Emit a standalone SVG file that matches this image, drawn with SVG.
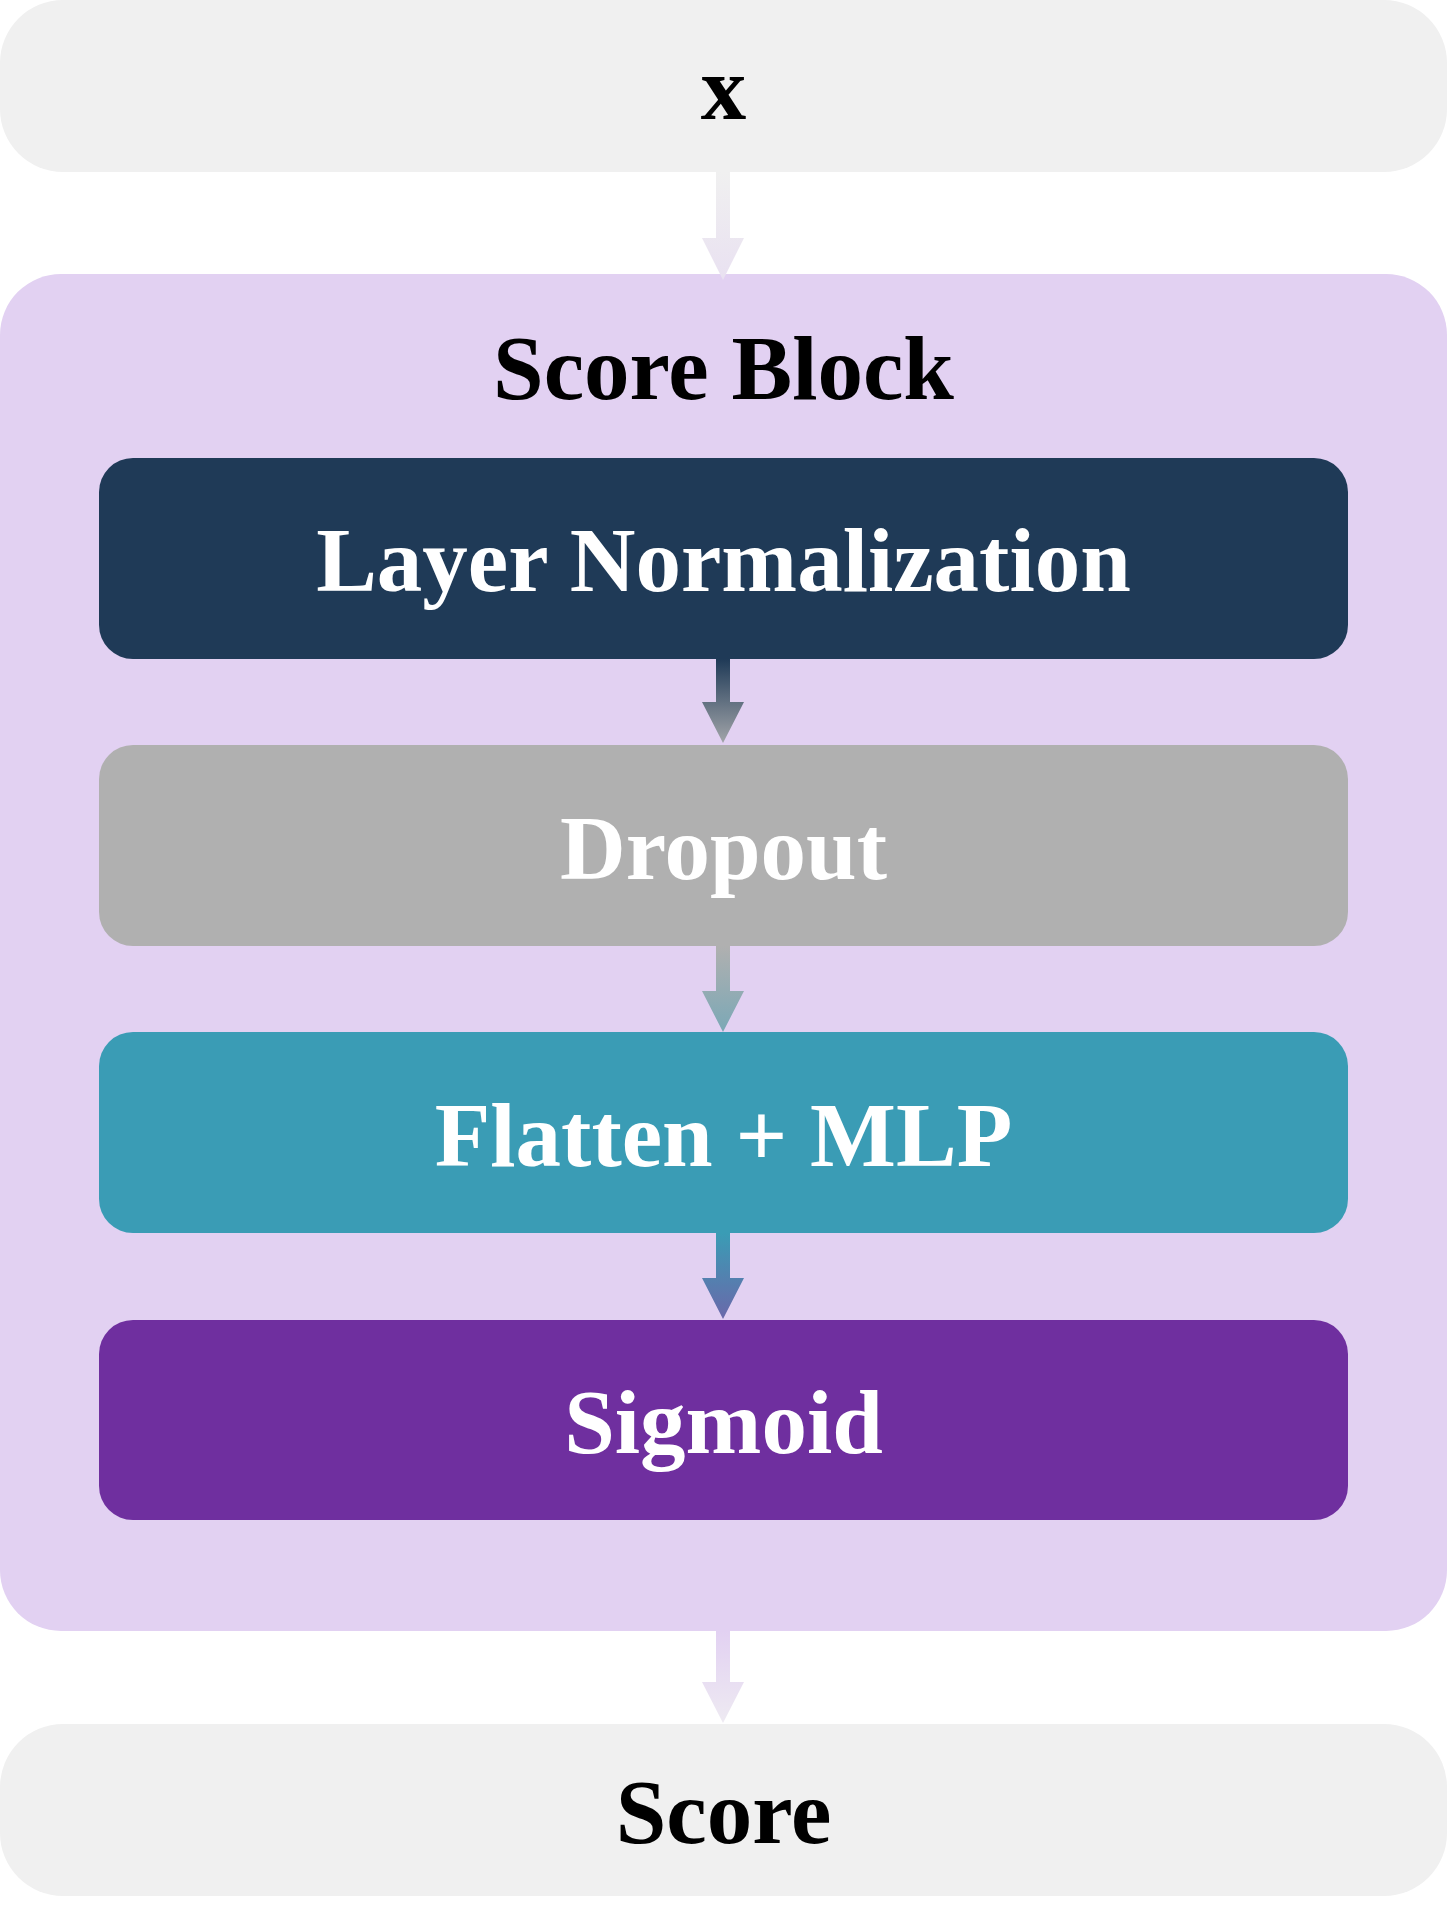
<svg xmlns="http://www.w3.org/2000/svg" width="1447" height="1921" viewBox="0 0 1447 1921">
  <style>
    .t { font-family: "Liberation Serif", "Times New Roman", serif; font-weight: bold; font-size: 91px; text-anchor: middle; }
    .dark { fill: #000000; }
    .light { fill: #FFFFFF; }
  </style>
  <defs>
    <linearGradient id="g1" gradientUnits="userSpaceOnUse" x1="0" y1="172" x2="0" y2="280">
      <stop offset="0" stop-color="#F0F0F0"/><stop offset="1" stop-color="#E9E1F1"/>
    </linearGradient>
    <linearGradient id="g2" gradientUnits="userSpaceOnUse" x1="0" y1="659" x2="0" y2="743">
      <stop offset="0" stop-color="#1F3A57"/><stop offset="1" stop-color="#A2A5A9"/>
    </linearGradient>
    <linearGradient id="g3" gradientUnits="userSpaceOnUse" x1="0" y1="946" x2="0" y2="1032">
      <stop offset="0" stop-color="#B0B0B0"/><stop offset="1" stop-color="#7BA8B6"/>
    </linearGradient>
    <linearGradient id="g4" gradientUnits="userSpaceOnUse" x1="0" y1="1233" x2="0" y2="1319">
      <stop offset="0" stop-color="#3A9CB5"/><stop offset="1" stop-color="#6A68AA"/>
    </linearGradient>
    <linearGradient id="g5" gradientUnits="userSpaceOnUse" x1="0" y1="1631" x2="0" y2="1723">
      <stop offset="0" stop-color="#E2D1F2"/><stop offset="1" stop-color="#EEEAF2"/>
    </linearGradient>
  </defs>

  <g id="input-x">
    <rect x="0" y="0" width="1447" height="172" rx="63" ry="63" fill="#F0F0F0"/>
    <text class="t dark" x="723.5" y="119">x</text>
  </g>

  <g id="score-block">
    <rect x="0" y="274" width="1447" height="1357" rx="61" ry="61" fill="#E2D1F2"/>
    <text class="t dark" x="723.5" y="399">Score Block</text>
  </g>

  <g id="layer-norm">
    <rect x="99" y="458" width="1249" height="201" rx="34" ry="34" fill="#1F3A57"/>
    <text class="t light" x="723.5" y="591">Layer Normalization</text>
  </g>

  <g id="dropout">
    <rect x="99" y="745" width="1249" height="201" rx="34" ry="34" fill="#B0B0B0"/>
    <text class="t light" x="723.5" y="879">Dropout</text>
  </g>

  <g id="flatten-mlp">
    <rect x="99" y="1032" width="1249" height="201" rx="34" ry="34" fill="#3A9CB5"/>
    <text class="t light" x="723.5" y="1166">Flatten + MLP</text>
  </g>

  <g id="sigmoid">
    <rect x="99" y="1320" width="1249" height="200" rx="34" ry="34" fill="#6F2F9F"/>
    <text class="t light" x="723.5" y="1453">Sigmoid</text>
  </g>

  <g id="output-score">
    <rect x="0" y="1724" width="1447" height="172" rx="63" ry="63" fill="#F0F0F0"/>
    <text class="t dark" x="723.5" y="1843">Score</text>
  </g>

  <g id="connectors">
    <path d="M716,172 H730 V238 H744 L723,280 L702,238 H716 Z" fill="url(#g1)"/>
    <path d="M716,659 H730 V702 H744 L723,743 L702,702 H716 Z" fill="url(#g2)"/>
    <path d="M716,946 H730 V991 H744 L723,1032 L702,991 H716 Z" fill="url(#g3)"/>
    <path d="M716,1233 H730 V1278 H744 L723,1319 L702,1278 H716 Z" fill="url(#g4)"/>
    <path d="M716,1631 H730 V1682 H744 L723,1723 L702,1682 H716 Z" fill="url(#g5)"/>
  </g>
</svg>
